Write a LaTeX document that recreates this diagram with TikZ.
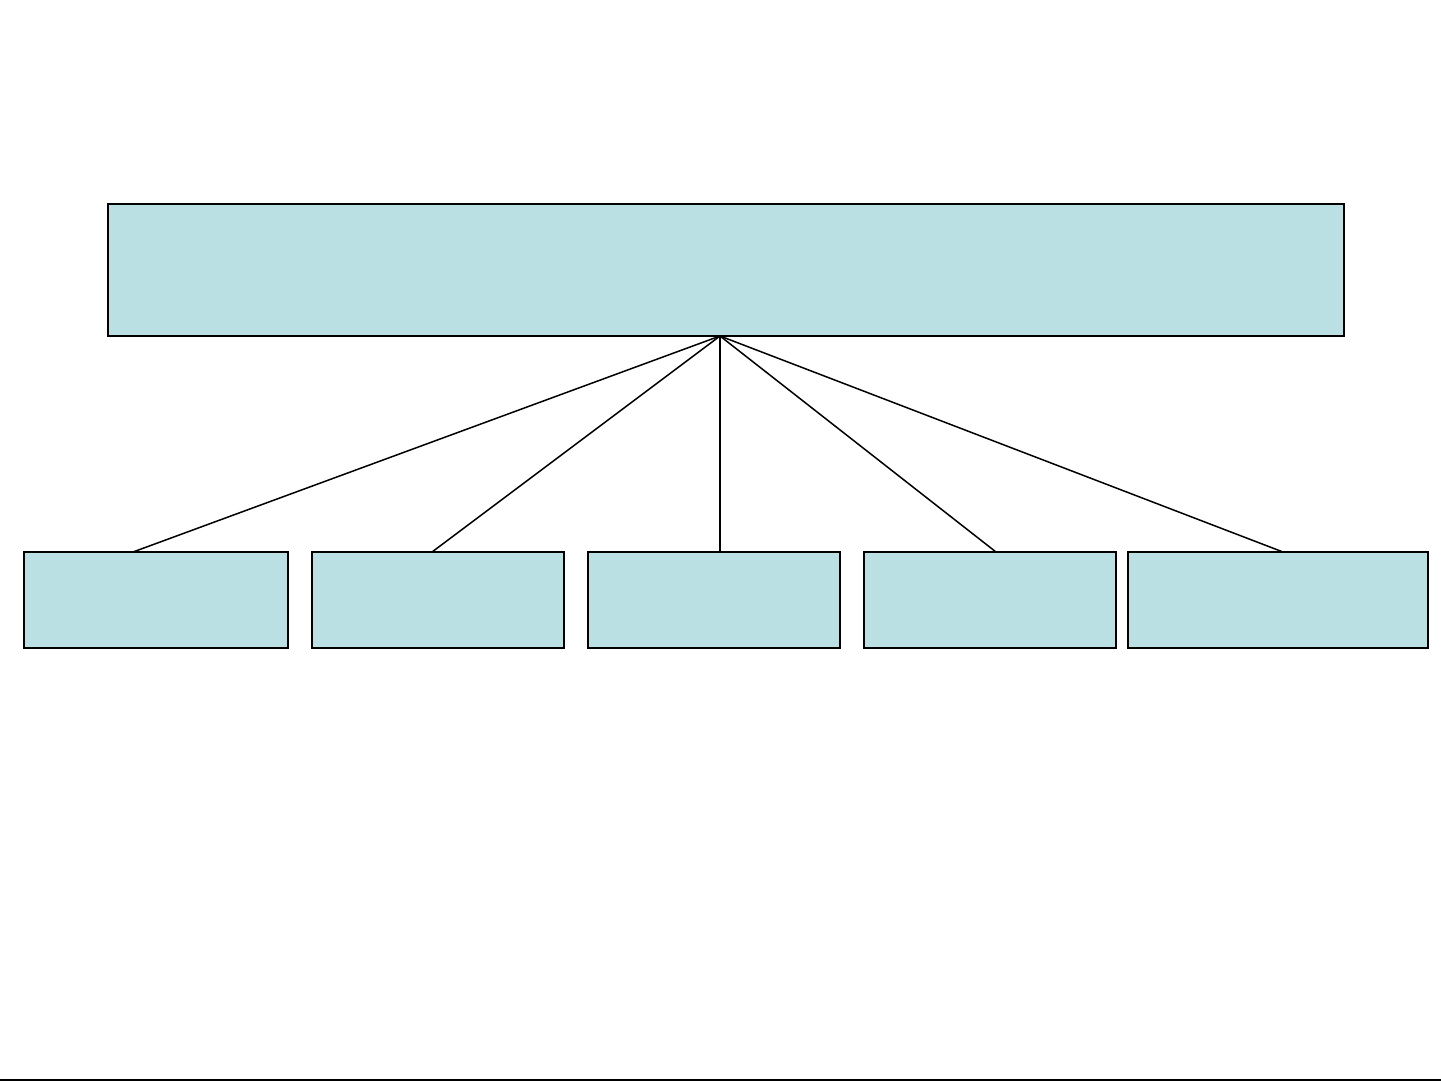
\documentclass[tikz,border=0pt]{standalone}
\definecolor{boxfill}{RGB}{186,224,227}
\begin{document}
\begin{tikzpicture}[x=0.5pt,y=-0.5pt,
  box/.style={draw=black,line width=1pt,fill=boxfill,inner sep=0pt,outer sep=0pt},
  link/.style={draw=black,line width=0.75pt}]
\useasboundingbox (0,0) rectangle (1441,1081);
\fill[white] (0,0) rectangle (1441,1081);
% top box
\node[box,minimum width=618pt,minimum height=66pt] (top) at (726,270) {};
% bottom boxes
\node[box,minimum width=132pt,minimum height=48pt] (b1) at (156,600) {};
\node[box,minimum width=126pt,minimum height=48pt] (b2) at (438,600) {};
\node[box,minimum width=126pt,minimum height=48pt] (b3) at (714,600) {};
\node[box,minimum width=126pt,minimum height=48pt] (b4) at (990,600) {};
\node[box,minimum width=150pt,minimum height=48pt] (b5) at (1278,600) {};
% attach points
\coordinate (apex) at (720,336);
\coordinate (c1) at (133,552);
\coordinate (c2) at (432,552);
\coordinate (c3) at (720,552);
\coordinate (c4) at (996,552);
\coordinate (c5) at (1283,552);
\draw[link] (apex) -- (c1);
\draw[link] (apex) -- (c2);
\draw[link] (apex) -- (c3);
\draw[link] (apex) -- (c4);
\draw[link] (apex) -- (c5);
% bottom rule
\coordinate (la) at (0,1080);
\coordinate (lb) at (1441,1080);
\draw[line width=1pt] (la) -- (lb);
\end{tikzpicture}
\end{document}
